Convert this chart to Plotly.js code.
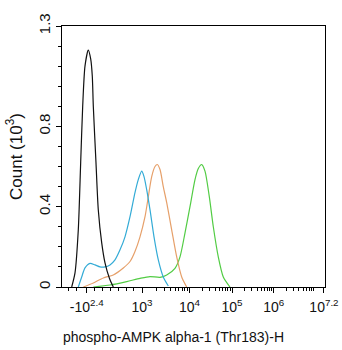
<!DOCTYPE html>
<html>
<head>
<meta charset="utf-8">
<script src="https://cdn.plot.ly/plotly-3.0.1.min.js"></script>
<style>html,body{margin:0;padding:0;background:#fff;}#chart{width:342px;height:350px;}</style>
</head>
<body>
<div id="chart"></div>
<script>
// x values are positions on the display (biexponential) scale, in decade units
const blackX = [1.165,1.244,1.323,1.380,1.428,1.483,1.562,1.620,1.658,1.682,1.746,1.801,1.883,1.962,2.065,2.160];
const blackY = [0,0.07,0.285,0.62,0.90,1.10,1.18,1.135,1.05,0.90,0.62,0.385,0.22,0.12,0.045,0];

const cyanX = [1.323,1.404,1.483,1.603,1.722,1.842,1.962,2.081,2.201,2.321,2.440,2.560,2.679,2.758,2.840,2.895,2.959,3.038,3.134,3.237,3.356,3.476];
const cyanY = [0,0.05,0.095,0.118,0.11,0.10,0.10,0.11,0.135,0.185,0.25,0.35,0.47,0.535,0.577,0.55,0.485,0.385,0.25,0.135,0.05,0.005];

const orangeX = [1.443,1.682,1.921,2.160,2.400,2.560,2.679,2.799,2.919,2.998,3.079,3.158,3.213,3.278,3.356,3.438,3.557,3.677,3.797,3.916];
const orangeY = [0,0.02,0.045,0.06,0.095,0.127,0.177,0.25,0.35,0.45,0.55,0.60,0.61,0.585,0.50,0.42,0.285,0.15,0.05,0];

const greenX = [1.682,2.081,2.481,2.799,3.038,3.278,3.438,3.636,3.756,3.876,3.995,4.115,4.194,4.275,4.354,4.457,4.553,4.672,4.792,4.952];
const greenY = [0,0.01,0.027,0.043,0.052,0.048,0.06,0.093,0.15,0.27,0.40,0.535,0.59,0.61,0.577,0.45,0.30,0.15,0.05,0];

const xTickVals = [1.524, 2.847, 3.983, 5, 6, 7.2];
const xTickText = ['-10<sup>2.4</sup>', '10<sup>3</sup>', '10<sup>4</sup>', '10<sup>5</sup>', '10<sup>6</sup>', '10<sup>7.2</sup>'];
const yTickVals = [0, 0.4, 0.8, 1.3];
const yTickText = ['0', '0.4', '0.8', '1.3'];
const xTitle = 'phospho-AMPK alpha-1 (Thr183)-H';
const yTitle = 'Count (10<sup>3</sup>)';

// minor tick positions
const minorX = [1.10, 1.285, 1.72, 1.91, 2.10, 2.29, 2.47, 2.65];
function addDecade(lo, hi, maxPos) {
  for (let k = 2; k <= 9; k++) {
    const p = lo + (hi - lo) * Math.log10(k);
    if (p < maxPos) minorX.push(p);
  }
}
addDecade(2.847, 3.983, 9);
addDecade(3.983, 5, 9);
addDecade(5, 6, 9);
addDecade(6, 7, 9);
addDecade(7, 8, 7.2);

const lw = 1.2;
const mk = (x, y, c) => ({x: x, y: y, type: 'scatter', mode: 'lines',
  line: {color: c, width: lw, shape: 'spline', smoothing: 0.7}, hoverinfo: 'skip'});

const data = [
  mk(greenX, greenY, '#52cc44'),
  mk(orangeX, orangeY, '#e6a06a'),
  mk(cyanX, cyanY, '#33abd6'),
  mk(blackX, blackY, '#111111')
];

const regular = 'Liberation Sans, Arial, sans-serif';

const layout = {
  width: 342, height: 350,
  margin: {l: 62, r: 17, t: 26, b: 63},
  paper_bgcolor: '#fff', plot_bgcolor: '#fff',
  showlegend: false,
  font: {family: regular, size: 13, color: '#111'},
  xaxis: {
    range: [0.933, 7.225],
    showgrid: false, zeroline: false,
    showline: true, linecolor: '#000', linewidth: 1, mirror: true,
    ticks: 'outside', ticklen: 5, tickcolor: '#000', tickwidth: 1,
    tickmode: 'array', tickvals: xTickVals, ticktext: xTickText,
    tickfont: {family: regular, size: 14, color: '#111'},
    ticklabelstandoff: 2,
    minor: {tickmode: 'array', tickvals: minorX, ticks: 'outside', ticklen: 3, tickcolor: '#000', tickwidth: 1},
    fixedrange: true
  },
  yaxis: {
    range: [0, 1.3],
    showgrid: false, zeroline: false,
    showline: true, linecolor: '#000', linewidth: 1, mirror: true,
    ticks: 'outside', ticklen: 5, tickcolor: '#000', tickwidth: 1,
    tickmode: 'array', tickvals: yTickVals, ticktext: yTickText,
    tickangle: -90,
    tickfont: {family: regular, size: 15, color: '#111'},
    minor: {dtick: 0.1, tick0: 0, ticks: 'outside', ticklen: 3, tickcolor: '#000', tickwidth: 1},
    title: {text: yTitle, font: {family: regular, size: 17, color: '#111'}, standoff: 9},
    fixedrange: true
  },
  annotations: [{
    text: xTitle, xref: 'paper', yref: 'paper', x: 0.425, y: -0.19,
    xanchor: 'center', yanchor: 'middle', showarrow: false,
    font: {family: regular, size: 14, color: '#111'}
  }]
};

Plotly.newPlot('chart', data, layout, {displayModeBar: false, staticPlot: true});
</script>
</body>
</html>
